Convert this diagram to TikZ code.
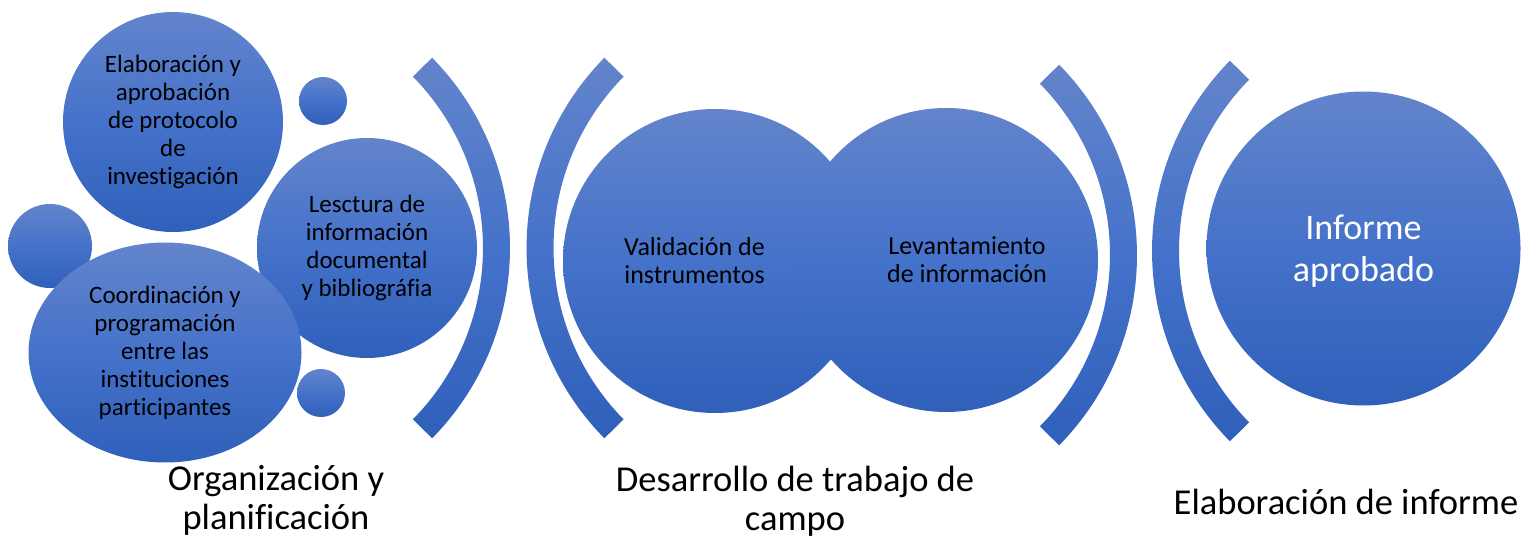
\documentclass[tikz,border=0pt]{standalone}
\usepackage{fontspec}
\setmainfont[Ligatures={NoCommon}]{Carlito}
\usetikzlibrary{shapes.geometric}
\definecolor{topb}{RGB}{99,132,203}
\definecolor{midb}{RGB}{69,114,202}
\definecolor{botb}{RGB}{47,96,186}
\newcommand\brkband[4]{%
  \path[band] ([shift={(#3:244.5)}]#1,#2) arc[start angle=#3, end angle=#4, radius=244.5]
    -- ([shift={(#4:271.5)}]#1,#2) arc[start angle=#4, end angle=#3, radius=271.5] -- cycle;}
\begin{document}
\begin{tikzpicture}[x=1pt,y=-1pt,
  grad/.style={top color=topb, bottom color=botb, middle color=midb, draw=none},
  blob/.style={grad, circle, inner sep=0pt},
  oval/.style={grad, ellipse, inner sep=0pt},
  band/.style={grad},
  smalltxt/.style={align=center, text=black, font=\fontsize{25}{28}\selectfont},
  midtxt/.style={align=center, text=black, font=\fontsize{26}{28}\selectfont},
  bigtxt/.style={align=center, text=white, font=\fontsize{36}{42}\selectfont},
  caption/.style={align=center, text=black, font=\fontsize{36.5}{39}\selectfont}]
\fill[white] (0,0) rectangle (1528,537);
\useasboundingbox (0,0) rectangle (1528,537);

% left group
\node[blob, minimum size=220pt, smalltxt] (elab) at (173,122) {Elaboración y\\aprobación\\de protocolo\\de\\investigación};
\node[blob, minimum size=48pt] (dot1) at (323,101) {};
\node[blob, minimum size=220pt, smalltxt] (lect) at (367,248) {Lesctura de\\información\\documental\\y bibliográfia};
\node[blob, minimum size=84pt] (dot2) at (50,246) {};
\node[oval, minimum width=273pt, minimum height=220pt, smalltxt] (coord) at (165,352.5) {Coordinación y\\programación\\entre las\\instituciones\\participantes};
\node[blob, minimum size=48pt] (dot3) at (321,393) {};

% brackets
\brkband{238.5}{248}{-44.5}{44.5}
\brkband{798}{248}{135.5}{224.5}
\brkband{865.5}{255}{-44.5}{44.5}
\brkband{1423.5}{251}{135.5}{224.5}

% middle group
\node[blob, minimum size=304pt] (valid) at (715,261) {};
\node[blob, minimum size=304pt] (levan) at (946,260) {};
\node[midtxt] (validt) at (694.5,261) {Validación de\\instrumentos};
\node[midtxt] (levant) at (967,260) {Levantamiento\\de información};

% right group
\node[blob, minimum size=314pt] (inf) at (1363.5,248.5) {};
\node[bigtxt] (inft) at (1363.5,251.5) {Informe\\aprobado};

% captions
\node[caption] (cap1) at (276,500) {Organización y\\planificación};
\node[caption] (cap2) at (795,501) {Desarrollo de trabajo de\\campo};
\node[caption] (cap3) at (1346,502) {Elaboración de informe};
\end{tikzpicture}
\end{document}
